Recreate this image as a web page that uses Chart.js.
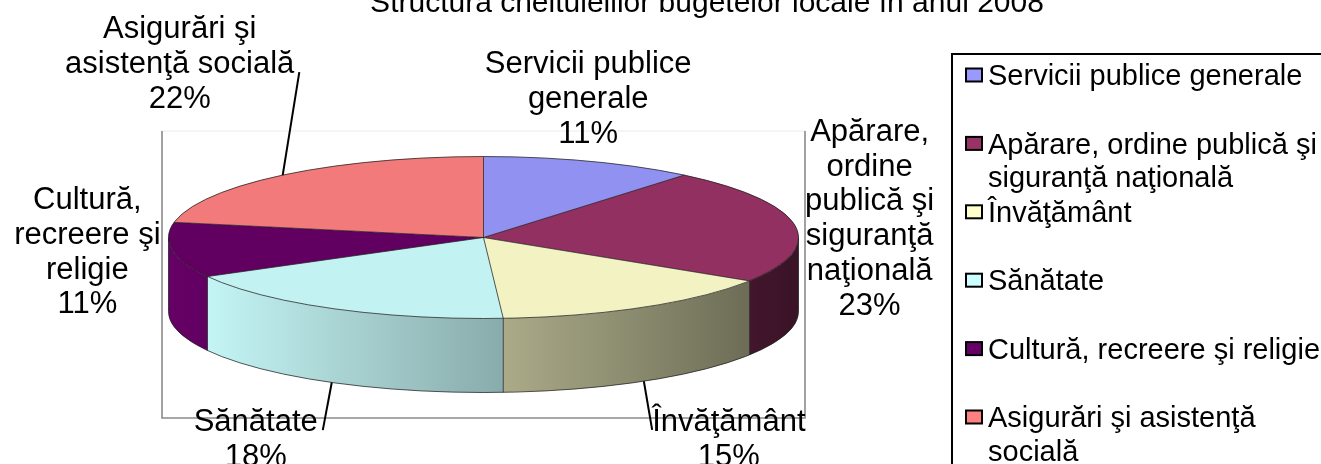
<!DOCTYPE html>
<html><head><meta charset="utf-8">
<style>html,body{margin:0;padding:0;background:#fff;overflow:hidden;}#wrap{position:relative;width:1321px;height:464px;}</style>
<script src="https://cdn.jsdelivr.net/npm/chart.js@4.4.1/dist/chart.umd.min.js"></script>
</head><body><div id="wrap"><canvas id="c" width="1321" height="464"></canvas></div>
<script>
// ---- data ----
const chartTitle = 'Structura cheltuielilor bugetelor locale în anul 2008';
const categories = ['Servicii publice generale', 'Apărare, ordine publică şi siguranţă naţională', 'Învăţământ', 'Sănătate', 'Cultură, recreere şi religie', 'Asigurări şi asistenţă socială'];
const shares = [11, 23, 15, 18, 11, 22];

// ---- styles ----
const baseColors = ['#9999FF', '#993366', '#FFFFCC', '#CCFFFF', '#660066', '#FF8080'];
const FONT = '"Liberation Sans", Arial, sans-serif';
const labelLayout = [
  {wrap: 215, dx: -2, dy: -64},
  {wrap: 135, dx: 75, dy: -8},
  {wrap: 300, dx: 85, dy: 130, leader: {from: 'bottom', line: 0, side: 'left'}},
  {wrap: 300, dx: -76, dy: 129, leader: {from: 'bottom', line: 0, side: 'right'}},
  {wrap: 150, dx: -85, dy: 0},
  {wrap: 250, dx: -103, dy: -113, leader: {from: 'top', line: 1, side: 'right'}}
];

function shade(hex, f) {
  const n = parseInt(hex.slice(1), 16);
  const c = v => Math.max(0, Math.min(255, Math.round(v * f)));
  return 'rgb(' + c((n >> 16) & 255) + ',' + c((n >> 8) & 255) + ',' + c(n & 255) + ')';
}
function wrapText(ctx, text, maxW) {
  const words = text.split(' ');
  const lines = []; let cur = '';
  for (const w of words) {
    const t = cur ? cur + ' ' + w : w;
    if (cur && ctx.measureText(t).width > maxW) { lines.push(cur); cur = w; } else cur = t;
  }
  if (cur) lines.push(cur);
  return lines;
}
function geom(chart, opts) {
  const meta = chart.getDatasetMeta(0);
  const a0 = meta.data[0];
  const r = a0.outerRadius, ry = r * opts.tilt;
  return {meta, cx: a0.x, cy: a0.y, r, ry, depth: opts.depth, cyTop: a0.y - opts.depth / 2};
}
const wallShade = (u) => Math.max(0.2, Math.min(1, 0.69 - 0.31 * u));

const framePlugin = {
  id: 'frame',
  beforeDraw(chart) {
    const {ctx, chartArea: a} = chart;
    ctx.save();
    ctx.strokeStyle = '#ececec'; ctx.lineWidth = 1;
    ctx.beginPath(); ctx.moveTo(a.left, a.top); ctx.lineTo(a.right, a.top); ctx.stroke();
    ctx.strokeStyle = '#8a8a8a'; ctx.lineWidth = 1.6;
    ctx.beginPath(); ctx.moveTo(a.left, a.top); ctx.lineTo(a.left, a.bottom); ctx.lineTo(a.right, a.bottom); ctx.lineTo(a.right, a.top); ctx.stroke();
    ctx.restore();
  }
};

const pie3d = {
  id: 'pie3d',
  beforeDatasetsDraw(chart, args, opts) {
    const g = geom(chart, opts);
    const ctx = chart.ctx;
    g.meta.data.forEach((arc, i) => {
      const s = Math.max(arc.startAngle, 0), e = Math.min(arc.endAngle, Math.PI);
      if (e <= s) return;
      const xs = g.cx + g.r * Math.cos(s), xe = g.cx + g.r * Math.cos(e);
      const grad = ctx.createLinearGradient(xe, 0, xs, 0);
      grad.addColorStop(0, shade(baseColors[i], wallShade((xe - g.cx) / g.r)));
      grad.addColorStop(1, shade(baseColors[i], wallShade((xs - g.cx) / g.r)));
      ctx.beginPath();
      ctx.ellipse(g.cx, g.cyTop, g.r, g.ry, 0, s, e, false);
      ctx.ellipse(g.cx, g.cyTop + g.depth, g.r, g.ry, 0, e, s, true);
      ctx.closePath();
      ctx.fillStyle = grad; ctx.fill();
    });
    ctx.save();
    ctx.translate(g.cx, g.cyTop); ctx.scale(1, opts.tilt); ctx.translate(-g.cx, -g.cy);
  },
  afterDatasetsDraw(chart, args, opts) {
    const ctx = chart.ctx;
    ctx.restore();
    const g = geom(chart, opts);
    ctx.save();
    ctx.strokeStyle = 'rgba(30,30,30,0.75)'; ctx.lineWidth = 1;
    g.meta.data.forEach((arc) => {
      const t = arc.startAngle;
      ctx.beginPath(); ctx.moveTo(g.cx, g.cyTop);
      ctx.lineTo(g.cx + g.r * Math.cos(t), g.cyTop + g.ry * Math.sin(t)); ctx.stroke();
      if (t > 0 && t < Math.PI) {
        const x = g.cx + g.r * Math.cos(t), y = g.cyTop + g.ry * Math.sin(t);
        ctx.beginPath(); ctx.moveTo(x, y); ctx.lineTo(x, y + g.depth); ctx.stroke();
      }
    });
    ctx.beginPath(); ctx.ellipse(g.cx, g.cyTop, g.r, g.ry, 0, 0, Math.PI * 2); ctx.stroke();
    ctx.beginPath(); ctx.ellipse(g.cx, g.cyTop + g.depth, g.r, g.ry, 0, 0, Math.PI); ctx.stroke();
    ctx.beginPath();
    ctx.moveTo(g.cx + g.r, g.cyTop); ctx.lineTo(g.cx + g.r, g.cyTop + g.depth);
    ctx.moveTo(g.cx - g.r, g.cyTop); ctx.lineTo(g.cx - g.r, g.cyTop + g.depth);
    ctx.stroke();
    ctx.restore();
  }
};

const labelsPlugin = {
  id: 'pieLabels',
  afterDraw(chart, args, opts) {
    const ctx = chart.ctx;
    const g = geom(chart, chart.options.plugins.pie3d);
    const total = shares.reduce((a, b) => a + b, 0);
    ctx.save();
    ctx.font = opts.size + 'px ' + FONT;
    ctx.fillStyle = '#000'; ctx.textAlign = 'center'; ctx.textBaseline = 'alphabetic';
    g.meta.data.forEach((arc, i) => {
      const L = labelLayout[i];
      const m = (arc.startAngle + arc.endAngle) / 2;
      const ax = g.cx + g.r * Math.cos(m), ay = g.cyTop + g.ry * Math.sin(m);
      const lines = wrapText(ctx, categories[i], L.wrap);
      lines.push(Math.round(shares[i] / total * 100) + '%');
      const lx = ax + L.dx, ly = ay + L.dy;
      const n = lines.length;
      const base = (k) => ly - (n - 1) * opts.lineH / 2 + k * opts.lineH + opts.size * 0.355;
      lines.forEach((t, k) => ctx.fillText(t, lx, base(k)));
      if (L.leader) {
        const w = ctx.measureText(lines[L.leader.line]).width;
        const tx = L.leader.side === 'right' ? lx + w / 2 + 5 : lx - w / 2;
        const ty = base(L.leader.line) - 1;
        const sy = L.leader.from === 'bottom' ? ay + g.depth : ay;
        ctx.strokeStyle = '#000'; ctx.lineWidth = 2;
        ctx.beginPath(); ctx.moveTo(ax, sy); ctx.lineTo(tx, ty); ctx.stroke();
      }
    });
    ctx.restore();
  }
};

const legendPlugin = {
  id: 'boxLegend',
  afterDraw(chart, args, o) {
    const ctx = chart.ctx;
    ctx.save();
    ctx.strokeStyle = '#000'; ctx.lineWidth = 2;
    ctx.strokeRect(o.x, o.y, 1000, 1000);
    ctx.font = o.size + 'px ' + FONT;
    ctx.textBaseline = 'alphabetic'; ctx.textAlign = 'left';
    chart.data.labels.forEach((lab, i) => {
      const cy = o.firstY + o.step * i;
      ctx.fillStyle = baseColors[i];
      ctx.fillRect(o.keyX, cy - o.keyH / 2, o.keyW, o.keyH);
      ctx.lineWidth = 2; ctx.strokeStyle = '#000';
      ctx.strokeRect(o.keyX, cy - o.keyH / 2, o.keyW, o.keyH);
      ctx.fillStyle = '#000';
      wrapText(ctx, lab, o.wrap).forEach((t, k) => ctx.fillText(t, o.textX, cy + k * o.lineH + o.size * 0.355));
    });
    ctx.restore();
  }
};

const titlePlugin = {
  id: 'clippedTitle',
  afterDraw(chart, args, o) {
    const ctx = chart.ctx;
    ctx.save();
    ctx.font = o.size + 'px ' + FONT; ctx.fillStyle = '#000';
    ctx.textAlign = 'center'; ctx.textBaseline = 'alphabetic';
    ctx.fillText(chartTitle, o.x, o.baseline);
    ctx.restore();
  }
};

const W = 1321, H = 464;
new Chart(document.getElementById('c'), {
  type: 'pie',
  data: {
    labels: categories,
    datasets: [{
      data: shares,
      backgroundColor: baseColors.map(c => shade(c, 0.95)),
      borderWidth: 0,
      radius: 315,
      clip: false
    }]
  },
  options: {
    responsive: false,
    animation: false,
    events: [],
    layout: {padding: {left: 162, top: 131, right: W - 805, bottom: H - 418}},
    plugins: {
      legend: {display: false},
      tooltip: {enabled: false},
      title: {display: false},
      pie3d: {tilt: 81 / 315, depth: 74},
      pieLabels: {size: 31, lineH: 34.8},
      boxLegend: {x: 952, y: 54, keyX: 966, keyW: 16, keyH: 13, textX: 988, firstY: 75, step: 68.4, lineH: 33.5, wrap: 340, size: 29},
      clippedTitle: {x: 707, baseline: 12, size: 30}
    }
  },
  plugins: [framePlugin, pie3d, labelsPlugin, legendPlugin, titlePlugin]
});
</script></body></html>
